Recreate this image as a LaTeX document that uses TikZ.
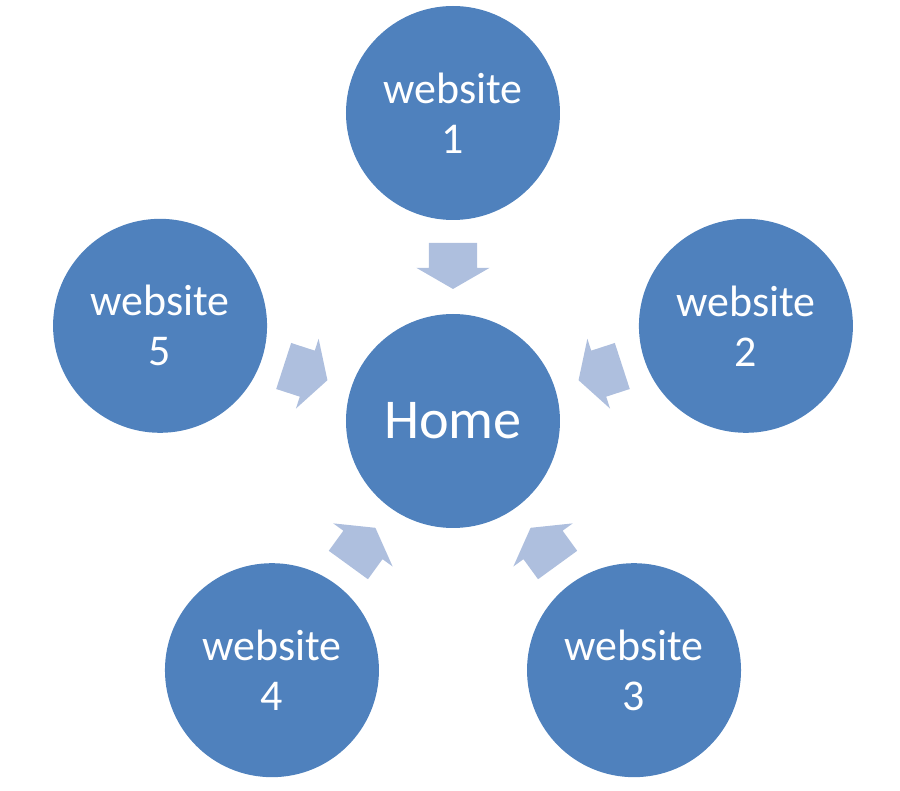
\documentclass[tikz,border=0pt]{standalone}
\usepackage{fontspec}
\setmainfont{Carlito}
\usetikzlibrary{calc}
\usetikzlibrary{shapes.arrows}
\definecolor{siteblue}{RGB}{79,129,189}
\definecolor{flowblue}{RGB}{174,191,222}
\begin{document}
\begin{tikzpicture}
            \tikzstyle{site} = [circle, fill=siteblue, inner sep=0pt, minimum size=2.14cm,
                text=white, align=center, font=\fontsize{12.5}{14.2}\selectfont]
            \tikzstyle{flow arrow} = [single arrow, fill=flowblue, inner xsep=0pt, inner ysep=0.235cm,
                minimum height=0.46cm, single arrow head extend=0.125cm,
                single arrow tip angle=120]
            \useasboundingbox (-4.53, -3.70) rectangle (4.47, 4.21);
            \node[site, font=\fontsize{16}{19}\selectfont] (home) at (0, 0) {Home};
            \foreach \i/\a in {1/90, 2/18, 3/-54, 4/-126, 5/162} {
                \node[site] (w\i) at (\a:3.08) {website\\\i};
                \node[flow arrow, rotate=\a+180] (a\i) at ($(w\i)!0.474!(home)$) {};
            }
        \end{tikzpicture}
\end{document}
